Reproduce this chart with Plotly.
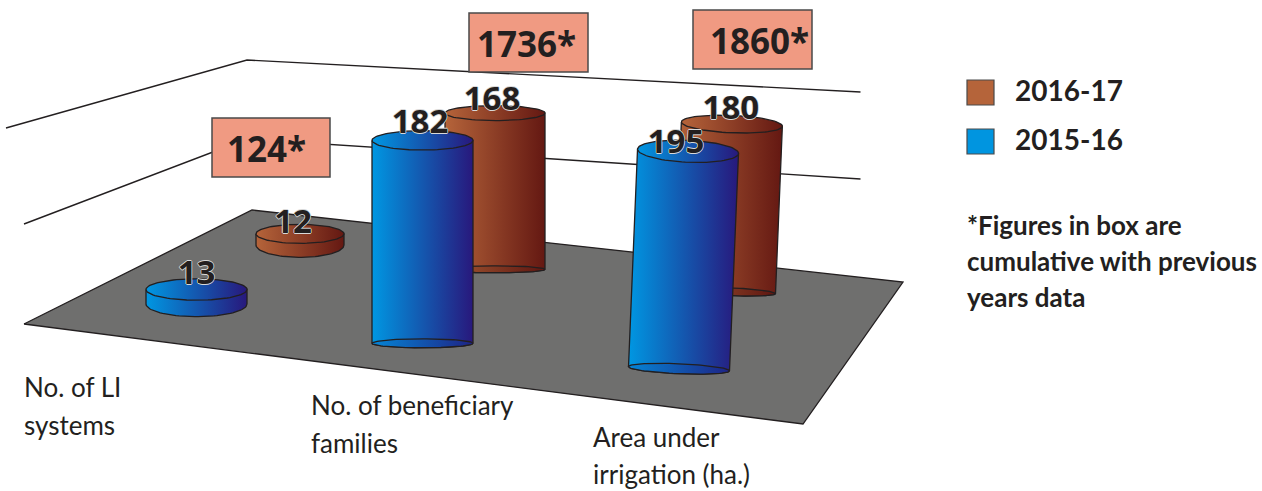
import numpy as np
import plotly.graph_objects as go

# Chart data
categories = [["No. of LI", "systems"], ["No. of beneficiary", "families"], ["Area under", "irrigation (ha.)"]]
series_names = ["2016-17", "2015-16"]
values_2016_17 = [12, 168, 180]
values_2015_16 = [13, 182, 195]
cumulative = ["124*", "1736*", "1860*"]
note_lines = ["*Figures in box are", "cumulative with previous", "years data"]

# Pseudo-perspective layout, in page units
W, H = 1262, 491
INK = "#231F20"
SANS = "Open Sans"
NARROW = "Lato"
HALO = "-0.8px 0 0 #d8d8d8,0.8px 0 0 #d8d8d8,0 -0.8px 0 #d8d8d8,0 0.8px 0 #d8d8d8"

FLOOR = [(24, 324), (252, 210), (903, 282), (803, 424)]
WALL_LINES = [[(6, 128), (247, 60), (860.5, 92)], [(24, 224), (247, 139), (860.5, 179)]]

# Units of height per value: the front row stands nearer than the back row
ROW_SCALE = {"back": 0.93, "front": 1.115}
BLUE = ["#0097E2", "#28187C"]
BLUE_BASE = ["#0585D6", "#1E2385"]
BROWN = ["#B5643A", "#641812"]
BROWN_BASE = ["#A45A33", "#5E1611"]

# x, floor y, half width, top and bottom ellipse depth, lean, label offset
SLOTS_2016 = [
    dict(x=300, y=245, rx=44, ry_top=9.5, ry_bot=12.3, lean=0.0, dx=-7, dy=-9),
    dict(x=495, y=269.3, rx=50, ry_top=7.5, ry_bot=3.5, lean=0.0, dx=-3, dy=-11),
    dict(x=725, y=291.5, rx=50.5, ry_top=8.7, ry_bot=4, lean=0.041, dx=-1, dy=-13),
]
SLOTS_2015 = [
    dict(x=196.5, y=304, rx=50.5, ry_top=10.7, ry_bot=12.7, lean=0.0, dx=0, dy=-14),
    dict(x=422.5, y=343.3, rx=50.5, ry_top=9.7, ry_bot=4.5, lean=0.0, dx=-2.5, dy=-15.5),
    dict(x=679, y=368.7, rx=50.5, ry_top=11, ry_bot=5, lean=0.0415, dx=-12, dy=-6.5),
]
BOXES = [(212, 118, 330, 177, 267.5), (469, 13, 588, 72, 527), (693, 10, 812, 69, 760)]
CATEGORY_POS = [(24, 387, 37.5), (311, 405, 38), (593, 437, 37)]

fig = go.Figure()


def ellipse(cx, cy, rx, ry, tilt, t0=0.0, t1=2 * np.pi, n=90):
    t = np.linspace(t0, t1, n)
    return cx + rx * np.cos(t), cy + ry * np.sin(t) + tilt * rx * np.cos(t)


def polygon(xs, ys, colors, line_width=1.3):
    fig.add_trace(go.Scatter(
        x=list(xs), y=list(ys), mode="lines", fill="toself",
        fillgradient=dict(type="horizontal", colorscale=[[0, colors[0]], [1, colors[1]]]),
        line=dict(color=INK, width=line_width), hoverinfo="skip", showlegend=False,
    ))


def cylinder(value, slot, scale, colors, base_colors):
    height = value * scale
    bx, by = slot["x"], slot["y"]
    tx, ty = bx + slot["lean"] * height, by - height
    tilt = slot["lean"]
    # Side wall: across the top, then back along the front of the base
    ax, ay = ellipse(bx, by, slot["rx"], slot["ry_bot"], tilt, 0, np.pi, 50)
    polygon(
        np.r_[tx - slot["rx"], tx + slot["rx"], ax, tx - slot["rx"]],
        np.r_[ty - tilt * slot["rx"], ty + tilt * slot["rx"], ay, ty - tilt * slot["rx"]],
        colors,
    )
    # Tall cylinders show the full base ellipse
    if value > 50:
        ex, ey = ellipse(bx, by, slot["rx"], slot["ry_bot"], tilt)
        polygon(ex, ey, base_colors)
    ex, ey = ellipse(tx, ty, slot["rx"], slot["ry_top"], tilt)
    polygon(ex, ey, colors)


# Floor and wall lines
fx, fy = zip(*(FLOOR + FLOOR[:1]))
fig.add_trace(go.Scatter(
    x=fx, y=fy, mode="lines", fill="toself", fillcolor="#6F6F6E",
    line=dict(color=INK, width=1.3), hoverinfo="skip", showlegend=False,
))
for wall in WALL_LINES:
    wx, wy = zip(*wall)
    fig.add_trace(go.Scatter(
        x=wx, y=wy, mode="lines", line=dict(color=INK, width=1.4),
        hoverinfo="skip", showlegend=False,
    ))

# Back row first so the front row overlaps it
for value, slot in zip(values_2016_17, SLOTS_2016):
    cylinder(value, slot, ROW_SCALE["back"], BROWN, BROWN_BASE)
for value, slot in zip(values_2015_16, SLOTS_2015):
    cylinder(value, slot, ROW_SCALE["front"], BLUE, BLUE_BASE)

# Value labels sit just above each cylinder top
for values, slots, scale in ((values_2016_17, SLOTS_2016, ROW_SCALE["back"]),
                             (values_2015_16, SLOTS_2015, ROW_SCALE["front"])):
    fig.add_trace(go.Scatter(
        x=[s["x"] + s["lean"] * v * scale + s["dx"] for v, s in zip(values, slots)],
        y=[s["y"] - v * scale + s["dy"] for v, s in zip(values, slots)],
        mode="text", text=[str(v) for v in values], textposition="middle center",
        textfont=dict(family=SANS, size=33, weight=700, color=INK, shadow=HALO),
        hoverinfo="skip", showlegend=False,
    ))

shapes = []
annotations = []


def add_text(x, y, text, family, size, weight=400, anchor="left"):
    annotations.append(dict(
        x=x, y=y, xref="x", yref="y", text=text, showarrow=False,
        xanchor=anchor, yanchor="middle", borderpad=0, xshift=-1,
        font=dict(family=family, size=size, color=INK, weight=weight),
    ))


# Cumulative boxes
for (x0, y0, x1, y1, tx), label in zip(BOXES, cumulative):
    shapes.append(dict(type="rect", x0=x0, y0=y0, x1=x1, y1=y1, xref="x", yref="y",
                       fillcolor="#F09A82", line=dict(color="#4A4A4A", width=1.5)))
    add_text(tx, (y0 + y1) / 2 + 1, label, SANS, 35, 700, "center")

# Category captions
for (x, y, gap), lines in zip(CATEGORY_POS, categories):
    for i, line in enumerate(lines):
        add_text(x, y + i * gap, line, NARROW, 26)

# Legend
for (y0, y1, color), name, ty in zip([(80, 105, "#B5643A"), (129, 154, "#0095E0")], series_names, [90, 139]):
    shapes.append(dict(type="rect", x0=967, y0=y0, x1=994, y1=y1, xref="x", yref="y",
                       fillcolor=color, line=dict(color="#4A4A4A", width=1.2)))
    add_text(1015, ty, name, NARROW, 28, 700)

# Footnote
for i, line in enumerate(note_lines):
    add_text(967, 225 + i * 36, line, NARROW, 26, 700)

fig.update_layout(
    width=W, height=H, margin=dict(l=0, r=0, t=0, b=0),
    paper_bgcolor="white", plot_bgcolor="white",
    xaxis=dict(range=[0, W], visible=False, fixedrange=True),
    yaxis=dict(range=[H, 0], visible=False, fixedrange=True),
    shapes=shapes, annotations=annotations, showlegend=False,
)

fig.write_html("out.html", config=dict(displayModeBar=False))
